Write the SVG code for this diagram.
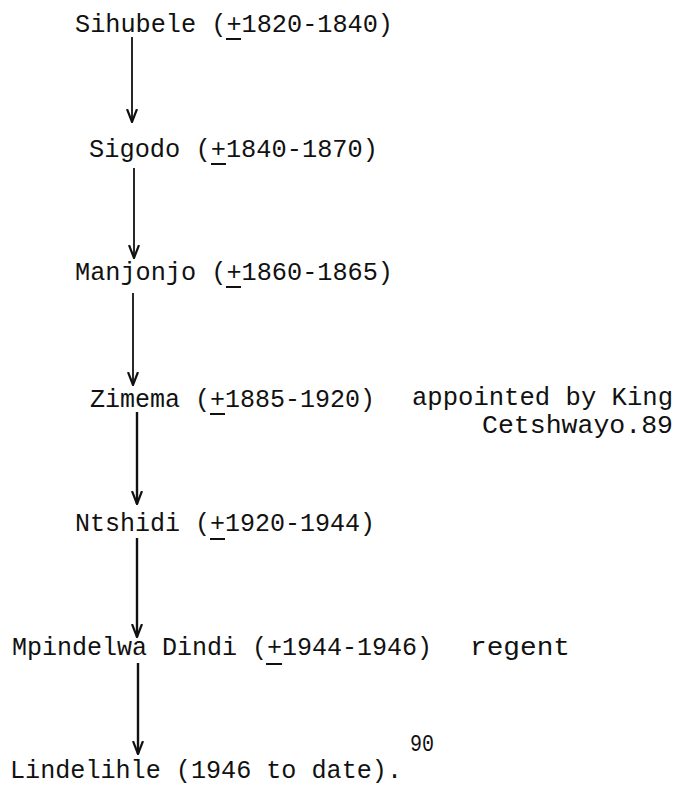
<svg xmlns="http://www.w3.org/2000/svg" width="677" height="787" viewBox="0 0 677 787">
<style>
  text { font-family: "Liberation Mono", "DejaVu Sans Mono", monospace; font-size: 25px; fill: #111; }
  .small { font-size: 23px; }
  .ul { stroke: #111; stroke-width: 2; }
  .conn { stroke: #111; fill: none; stroke-width: 1.8; }
  .thick { stroke-width: 2.4; }
</style>
<defs>
  <marker id="arr" viewBox="0 0 14 12" refX="13" refY="6" markerWidth="14" markerHeight="12" markerUnits="userSpaceOnUse" orient="auto">
    <path d="M0,1 L13,6 L0,11" fill="none" stroke="#111" stroke-width="2.2"/>
  </marker>
</defs>
<rect width="677" height="787" fill="#fff"/>

<g id="connectors">
  <path class="conn" d="M132,37 V122" marker-end="url(#arr)"/>
  <path class="conn" d="M134,168 V258" marker-end="url(#arr)"/>
  <path class="conn" d="M133,293 V385" marker-end="url(#arr)"/>
  <path class="conn thick" d="M137,412 V504" marker-end="url(#arr)"/>
  <path class="conn thick" d="M137,538 V637" marker-end="url(#arr)"/>
  <path class="conn thick" d="M138,663 V754" marker-end="url(#arr)"/>
</g>

<g id="sihubele">
  <text x="75" y="32" textLength="318" lengthAdjust="spacingAndGlyphs">Sihubele (+1820-1840)</text>
  <line class="ul" x1="226" y1="39" x2="241" y2="39"/>
</g>
<g id="sigodo">
  <text x="89" y="157" textLength="289" lengthAdjust="spacingAndGlyphs">Sigodo (+1840-1870)</text>
  <line class="ul" x1="211" y1="164" x2="226" y2="164"/>
</g>
<g id="manjonjo">
  <text x="75" y="280" textLength="318" lengthAdjust="spacingAndGlyphs">Manjonjo (+1860-1865)</text>
  <line class="ul" x1="226" y1="287" x2="241" y2="287"/>
</g>
<g id="zimema">
  <text x="90" y="407" textLength="285" lengthAdjust="spacingAndGlyphs">Zimema (+1885-1920)</text>
  <line class="ul" x1="210" y1="414" x2="225" y2="414"/>
  <text x="412" y="405" textLength="261" lengthAdjust="spacingAndGlyphs">appointed by King</text>
  <text x="482" y="433" textLength="191" lengthAdjust="spacingAndGlyphs">Cetshwayo.89</text>
</g>
<g id="ntshidi">
  <text x="75" y="531" textLength="300" lengthAdjust="spacingAndGlyphs">Ntshidi (+1920-1944)</text>
  <line class="ul" x1="210" y1="539" x2="225" y2="539"/>
</g>
<g id="mpindelwa">
  <text x="12" y="655" textLength="420" lengthAdjust="spacingAndGlyphs">Mpindelwa Dindi (+1944-1946)</text>
  <line class="ul" x1="266" y1="664" x2="282" y2="664"/>
  <text x="470" y="655" textLength="100" lengthAdjust="spacingAndGlyphs">regent</text>
</g>
<g id="lindelihle">
  <text x="10" y="778" textLength="392" lengthAdjust="spacingAndGlyphs">Lindelihle (1946 to date).</text>
  <text class="small" x="410" y="751" textLength="24" lengthAdjust="spacingAndGlyphs">90</text>
</g>
</svg>
